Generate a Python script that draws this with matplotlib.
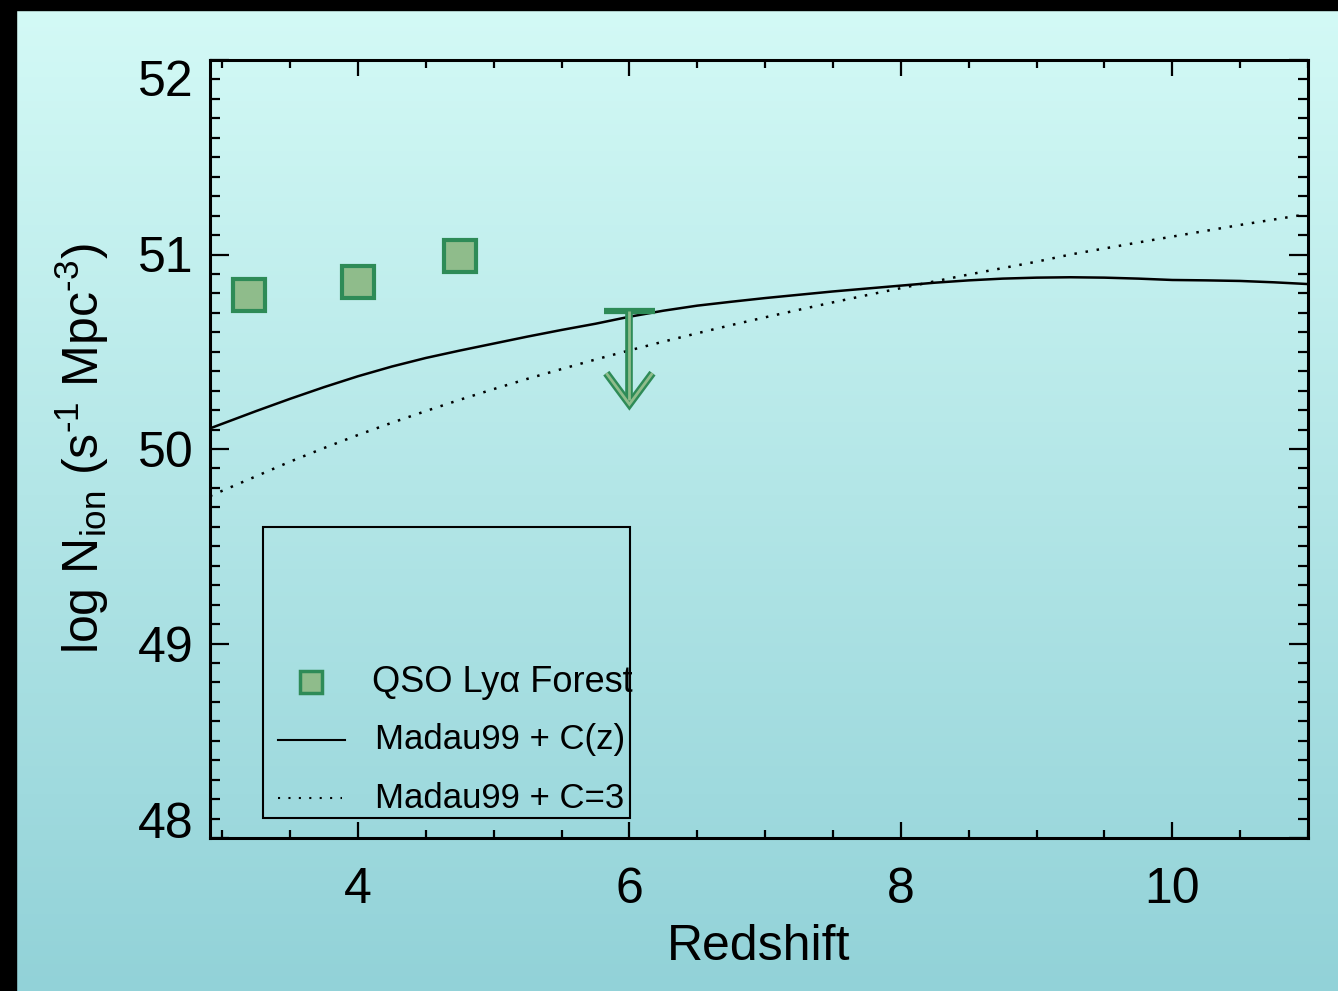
import matplotlib
matplotlib.use("Agg")
import matplotlib.pyplot as plt
import matplotlib.ticker as mticker
from matplotlib.patches import Rectangle
import numpy as np

matplotlib.rcParams.update({
    "font.family": "sans-serif",
    "font.sans-serif": ["Liberation Sans", "DejaVu Sans"],
    "mathtext.fontset": "custom",
    "mathtext.rm": "Liberation Sans",
    "mathtext.it": "Liberation Sans:italic",
})

# ── data ─────────────────────────────────────────────────────────────────────
qso_z = [3.2, 4.0, 4.75]
qso_logn = [50.79, 50.86, 50.99]

limit_z = [6.0]
limit_top = [50.71]
limit_tip = [50.23]

model_z = [2.91, 3.25, 3.5, 3.75, 4.0, 4.25, 4.5, 4.75, 5.0, 5.25, 5.5, 5.75,
           6.0, 6.25, 6.5, 6.75, 7.0, 7.25, 7.5, 7.75, 8.0, 8.25, 8.5, 8.75,
           9.0, 9.25, 9.5, 9.75, 10.0, 10.25, 10.5, 10.75, 11.0]
madau_cz = [50.106, 50.195, 50.258, 50.318, 50.374, 50.424, 50.468, 50.506,
            50.542, 50.578, 50.612, 50.644, 50.680, 50.711, 50.737, 50.757,
            50.776, 50.793, 50.810, 50.825, 50.840, 50.855, 50.867, 50.876,
            50.881, 50.883, 50.881, 50.876, 50.869, 50.867, 50.864, 50.857,
            50.848]
madau_c3 = [49.758, 49.860, 49.935, 50.005, 50.072, 50.135, 50.195, 50.253,
            50.308, 50.361, 50.411, 50.460, 50.507, 50.552, 50.595, 50.637,
            50.677, 50.716, 50.754, 50.791, 50.827, 50.862, 50.897, 50.930,
            50.963, 51.000, 51.031, 51.062, 51.092, 51.122, 51.152, 51.180,
            51.208]

x_ticks = [4, 6, 8, 10]
y_ticks = [48, 49, 50, 51, 52]

C_FILL = "#8fbc8b"
C_EDGE = "#2e8b57"
C_TOP = np.array([212, 250, 246]) / 255
C_BOT = np.array([146, 210, 216]) / 255

fig = plt.figure(figsize=(13.38, 9.91), dpi=100)

# ── background gradient + black frame strips ────────────────────────────────
bg = fig.add_axes([0, 0, 1, 1], zorder=-10)
t = np.linspace(0, 1, 256)[:, None, None]
grad = C_TOP * (1 - t) + C_BOT * t
bg.imshow(grad, aspect="auto", extent=[0, 1, 0, 1])
bg.add_patch(Rectangle((0, 0), 16 / 1338, 1, color="black"))
bg.add_patch(Rectangle((0, 1 - 10 / 991), 1, 10 / 991, color="black"))
bg.set_xlim(0, 1)
bg.set_ylim(0, 1)
bg.axis("off")

ax = fig.add_axes([210 / 1338, 1 - 838 / 991, 1098 / 1338, 778 / 991])
ax.patch.set_alpha(0)

# ── model curves ─────────────────────────────────────────────────────────────
ax.plot(model_z, madau_cz, color="black", lw=1.8, zorder=2)
ax.plot(model_z, madau_c3, color="black", lw=1.8, linestyle=(0, (1, 3.5)), zorder=2)

# ── QSO points ───────────────────────────────────────────────────────────────
ax.plot(qso_z, qso_logn, linestyle="none", marker="s", markersize=23,
        markerfacecolor=C_FILL, markeredgecolor=C_EDGE, markeredgewidth=3, zorder=4)

# ── upper limit: bar + hollow arrow ──────────────────────────────────────────
for z, top, tip in zip(limit_z, limit_top, limit_tip):
    ax.plot([z - 0.19, z + 0.19], [top, top], color=C_EDGE, lw=4.5,
            solid_capstyle="butt", zorder=3)
    arm_x = [z - 0.17, z, z + 0.17]
    arm_y = [tip + 0.16, tip, tip + 0.16]
    for lw, col in ((5.5, C_EDGE), (2.0, C_FILL)):
        ax.plot([z, z], [top, tip + 0.02], color=col, lw=lw,
                solid_capstyle="butt", zorder=3)
        ax.plot(arm_x, arm_y, color=col, lw=lw, solid_joinstyle="miter",
                solid_capstyle="butt", zorder=3)

# ── axes styling ─────────────────────────────────────────────────────────────
ax.set_xlim(2.91, 11.0)
ax.set_ylim(48, 52)
ax.set_xticks(x_ticks)
ax.set_yticks(y_ticks)
ax.xaxis.set_minor_locator(mticker.MultipleLocator(0.5))
ax.yaxis.set_minor_locator(mticker.MultipleLocator(0.1))
ax.tick_params(which="both", direction="in", top=True, right=True,
               width=1.6, colors="black", labelsize=36)
ax.tick_params(axis="x", which="major", length=11.5, pad=21)
ax.tick_params(axis="x", which="minor", length=6)
ax.tick_params(axis="y", which="major", length=14, pad=12)
ax.tick_params(axis="y", which="minor", length=7)
for sp in ax.spines.values():
    sp.set_linewidth(2.2)

ylabels = ax.get_yticklabels()
ylabels[0].set_verticalalignment("baseline")
ylabels[-1].set_verticalalignment("top")

ax.set_xlabel("Redshift", fontsize=36, labelpad=8)
ax.set_ylabel(r"log N$_{\rm ion}$ (s$^{\text{-1}}$ Mpc$^{\text{-3}}$)", fontsize=36)
ax.yaxis.set_label_coords(-0.09, 0.5)

# ── legend (drawn by hand, framed box with empty top) ───────────────────────
ax.add_patch(Rectangle((0.048, 0.026), 0.3345, 0.374, transform=ax.transAxes,
                       fill=False, edgecolor="black", lw=1.5, zorder=5))
ax.plot([0.092], [0.2005], transform=ax.transAxes, marker="s", markersize=16,
        markerfacecolor=C_FILL, markeredgecolor=C_EDGE, markeredgewidth=2.5,
        linestyle="none", zorder=6)
ax.plot([0.062, 0.123], [0.126, 0.126], transform=ax.transAxes,
        color="black", lw=1.5, zorder=6)
ax.plot([0.062, 0.12], [0.0514, 0.0514], transform=ax.transAxes,
        color="black", lw=1.5, linestyle=(0, (1, 4)), zorder=6)
ax.text(0.1475, 0.2005, "QSO Lyα Forest", transform=ax.transAxes,
        fontsize=26, va="center", ha="left", zorder=6)
ax.text(0.150, 0.126, "Madau99 + C(z)", transform=ax.transAxes,
        fontsize=25, va="center", ha="left", zorder=6)
ax.text(0.150, 0.0514, "Madau99 + C=3", transform=ax.transAxes,
        fontsize=25, va="center", ha="left", zorder=6)

fig.savefig("out.png", dpi=100)
